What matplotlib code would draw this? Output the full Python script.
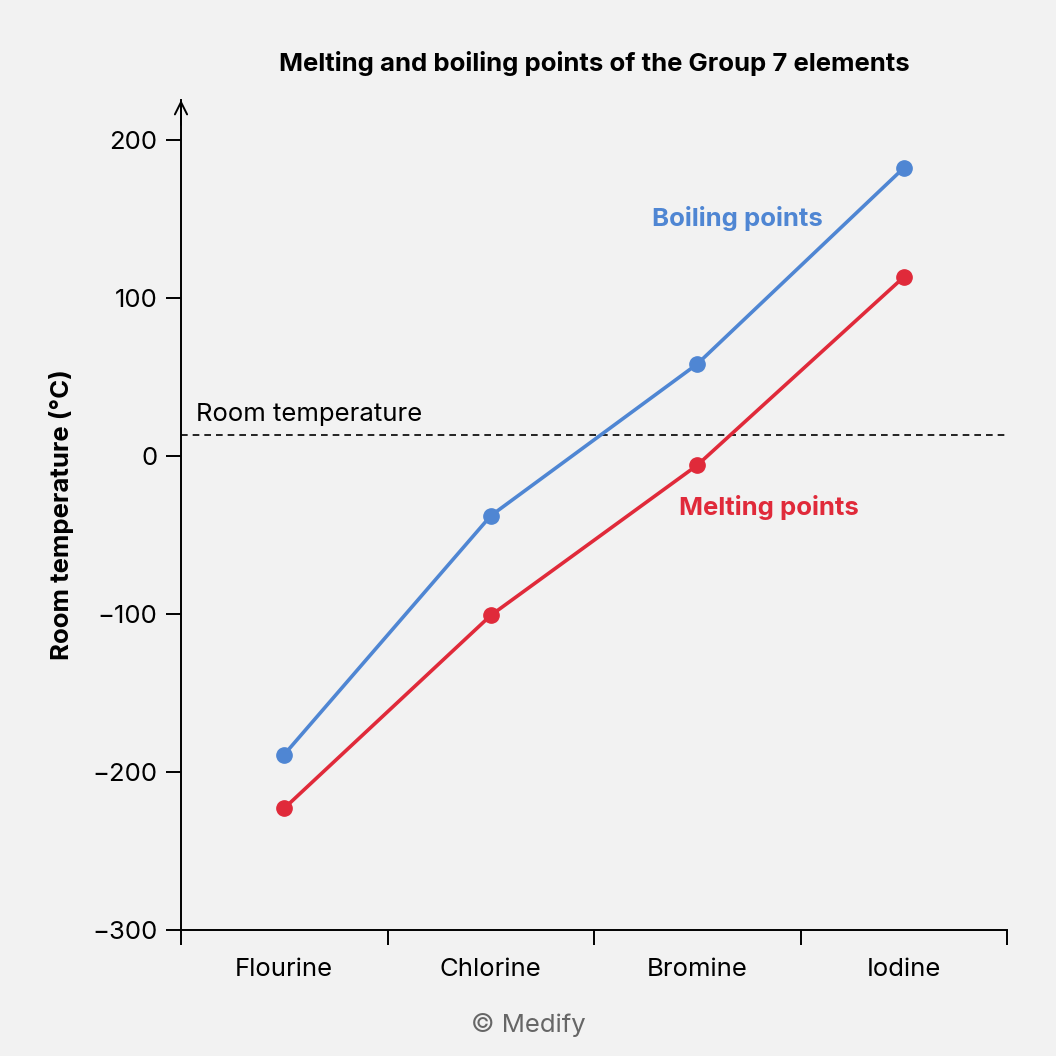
import matplotlib.pyplot as plt
import numpy as np

plt.rcParams['font.family'] = ['Inter', 'DejaVu Sans']

elements = ['Flourine', 'Chlorine', 'Bromine', 'Iodine']
boiling = [-189, -38, 58, 182]
melting = [-223, -101, -6, 113]
room_temp = 13

bg = '#f2f2f2'
blue = '#4f86d3'
red = '#e02a3a'
fs = 18.5

fig = plt.figure(figsize=(10.56, 10.56), dpi=100, facecolor=bg)
ax = fig.add_axes([181 / 1056, 1 - 930 / 1056, 826 / 1056, 830 / 1056])
ax.set_facecolor(bg)

x = np.arange(len(elements)) + 0.5
ax.plot(x, boiling, '-o', color=blue, lw=2.6, ms=11, zorder=3)
ax.plot(x, melting, '-o', color=red, lw=2.6, ms=11, zorder=3)
ax.axhline(room_temp, color='black', lw=1.2, ls=(0, (4, 3)), zorder=2)

ax.set_xlim(0, 4)
ax.set_ylim(-300, 225)
ax.set_yticks([-300, -200, -100, 0, 100, 200])
ax.set_yticklabels(['\u2212300', '\u2212200', '\u2212100', '0', '100', '200'])
ax.set_xticks([0, 1, 2, 3, 4])
ax.set_xticklabels([])
ax.set_xticks(x, minor=True)
ax.set_xticklabels(elements, minor=True)
ax.tick_params(axis='x', which='minor', length=0, pad=20, labelsize=fs)
ax.tick_params(axis='x', which='major', length=11, width=1.4, direction='out')
ax.tick_params(axis='y', length=11, width=1.4, labelsize=fs, pad=6)

for s in ['top', 'right']:
    ax.spines[s].set_visible(False)
for s in ['left', 'bottom']:
    ax.spines[s].set_linewidth(1.4)
ax.annotate('', xy=(0, 1.0), xytext=(0, 0.97), xycoords='axes fraction',
            arrowprops=dict(arrowstyle='->', lw=1.4, color='black',
                            mutation_scale=22, shrinkA=0, shrinkB=0))

ax.set_ylabel('Room temperature (°C)', fontsize=fs, fontweight='bold', labelpad=13)
ax.set_title('Melting and boiling points of the Group 7 elements',
             fontsize=fs, fontweight='bold', pad=21)

ax.text(0.075, room_temp + 6, 'Room temperature', fontsize=fs, va='bottom', ha='left')
ax.text(2.28, 150, 'Boiling points', color=blue, fontsize=fs, fontweight='bold', ha='left', va='center')
ax.text(2.41, -33, 'Melting points', color=red, fontsize=fs, fontweight='bold', ha='left', va='center')

fig.text(0.5, 1 - 1025 / 1056, '© Medify', color='#666666', fontsize=fs, ha='center', va='center')

fig.savefig('out.png', dpi=100, facecolor=bg)
